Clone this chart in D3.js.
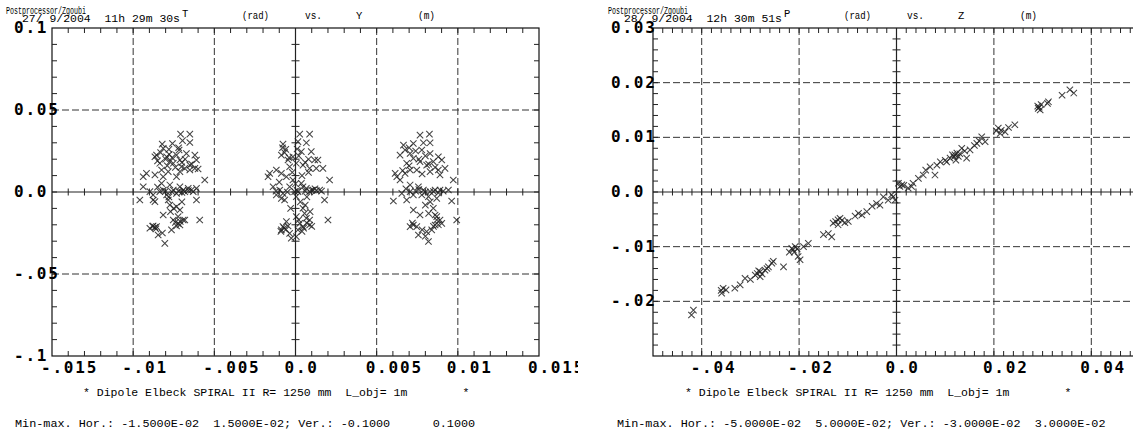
<!DOCTYPE html>
<html><head><meta charset="utf-8">
<script src="https://cdn.jsdelivr.net/npm/d3@7"></script>
<style>
html,body{margin:0;padding:0;background:#fff;}
svg{display:block;}
</style></head>
<body>
<script>
// ---------- data ----------
const leftXTicks = [-0.015,-0.01,-0.005,0,0.005,0.01,0.015];
const leftXLabels = ["-.015","-.01","-.005","0.0","0.005","0.01","0.015"];
const leftYTicks = [0.1,0.05,0,-0.05,-0.1];
const leftYLabels = ["0.1","0.05","0.0","-.05","-.1"];
const rightXTicks = [-0.04,-0.02,0,0.02,0.04];
const rightXLabels = ["-.04","-.02","0.0","0.02","0.04"];
const rightYTicks = [0.03,0.02,0.01,0,-0.01,-0.02];
const rightYLabels = ["0.03","0.02","0.01","0.0","-.01","-.02"];

// T (rad) vs Y (m), three bunches
const clusterA = [
[-0.00708,0.0353],[-0.00651,0.0353],[-0.00696,0.0313],[-0.00651,0.0302],[-0.00821,0.0292],[-0.00758,0.0296],
[-0.00815,0.0266],[-0.00717,0.0256],[-0.00831,0.0240],[-0.00778,0.0229],[-0.00856,0.0225],[-0.00672,0.0235],
[-0.00620,0.0225],[-0.00866,0.0215],[-0.00794,0.0215],[-0.00733,0.0225],[-0.00774,0.0185],[-0.00712,0.0195],
[-0.00610,0.0195],[-0.00836,0.0175],[-0.00753,0.0175],[-0.00651,0.0164],[-0.00620,0.0144],[-0.00702,0.0154],
[-0.00682,0.0144],[-0.00825,0.0134],[-0.00784,0.0124],[-0.00712,0.0124],[-0.00600,0.0140],[-0.00918,0.0114],
[-0.00938,0.0093],[-0.00866,0.0104],[-0.00815,0.0093],[-0.00733,0.0093],[-0.00651,0.0134],[-0.00559,0.0073],
[-0.00938,0.0032],[-0.00897,0.0002],[-0.00825,0.0053],[-0.00815,0.0012],[-0.00774,0.0043],[-0.00753,0.0012],
[-0.00712,0.0032],[-0.00692,0.0012],[-0.00661,0.0022],[-0.00641,0.0012],[-0.00610,0.0022],[-0.00836,0.0002],
[-0.00877,-0.0018],[-0.00794,-0.0018],[-0.00733,-0.0008],[-0.00959,-0.0049],[-0.00877,-0.0049],[-0.00866,-0.0059],
[-0.00610,-0.0049],[-0.00784,-0.0049],[-0.00682,0.0002],
[-0.00774,-0.0079],[-0.00733,-0.0089],[-0.00712,-0.0110],[-0.00815,-0.0140],[-0.00723,-0.0150],[-0.00753,-0.0171],
[-0.00692,-0.0171],[-0.00590,-0.0171],[-0.00877,-0.0207],[-0.00856,-0.0211],[-0.00712,-0.0201],[-0.00897,-0.0221],
[-0.00764,-0.0231],[-0.00846,-0.0262],[-0.00805,-0.0313],[-0.00723,-0.0191],[-0.00682,-0.0171],[-0.00866,-0.0215],
[-0.00733,-0.0207],
[-0.00800,0.0200],[-0.00760,0.0210],[-0.00700,0.0180],[-0.00740,0.0150],[-0.00790,0.0160],[-0.00850,0.0190],
[-0.00680,0.0200],[-0.00640,0.0170],[-0.00720,0.0270],[-0.00780,0.0260],[-0.00800,0.0005],[-0.00760,0.0000],
[-0.00720,0.0005],[-0.00700,-0.0002],[-0.00660,0.0008],[-0.00630,0.0002],[-0.00850,0.0030],[-0.00780,-0.0030],
[-0.00880,-0.0210],[-0.00860,-0.0225],[-0.00740,-0.0185],[-0.00710,-0.0180],[-0.00770,-0.0120],[-0.00750,-0.0100],
[-0.00820,-0.0250],[-0.00700,-0.0060]
];
const clusterB = [
[0.00026,0.0353],[0.00087,0.0353],[0.00015,0.0307],[0.00067,0.0300],[-0.00077,0.0292],[0.00097,0.0246],
[0.00036,0.0246],[-0.00067,0.0240],[-0.00087,0.0225],[-0.00016,0.0215],[-0.00046,0.0195],[0.00118,0.0195],
[0.00138,0.0195],[0.00005,0.0175],[-0.00036,0.0154],[0.00046,0.0164],[0.00087,0.0144],[0.00128,0.0144],
[0.00169,0.0144],[-0.00118,0.0134],[-0.00159,0.0114],[-0.00169,0.0093],[-0.00087,0.0114],[-0.00056,0.0093],
[-0.00016,0.0073],[0.00210,0.0073],
[-0.00138,0.0032],[-0.00097,0.0012],[-0.00077,-0.0008],[-0.00005,0.0002],[0.00015,0.0002],[0.00046,0.0032],
[0.00067,0.0022],[0.00108,0.0012],[0.00128,0.0008],[0.00149,0.0012],[0.00036,0.0053],[-0.00036,0.0032],
[-0.00118,-0.0018],[-0.00087,-0.0039],[0.00005,-0.0028],[0.00087,0.0002],[0.00179,-0.0049],[-0.00067,-0.0049],
[0.00046,-0.0099],[0.00056,-0.0130],[0.00005,-0.0150],[0.00067,-0.0160],[0.00087,-0.0171],[0.00026,-0.0191],
[0.00046,-0.0211],[-0.00056,-0.0181],[-0.00077,-0.0211],[-0.00087,-0.0231],[-0.00036,-0.0252],[0.00005,-0.0272],
[0.00015,-0.0231],[0.00087,-0.0201],[0.00200,-0.0171],[-0.00026,-0.0282],[-0.00046,-0.0207],
[0.00010,0.0262],[-0.00040,0.0210],[0.00060,0.0180],[0.00100,0.0010],[-0.00120,0.0005],[0.00070,-0.0030],
[0.00050,-0.0220],[-0.00060,-0.0230],
[-0.00060,0.0260],[-0.00080,0.0270],[0.00020,0.0220],[0.00080,0.0200],[-0.00020,0.0120],[0.00040,0.0100],
[0.00080,0.0120],[-0.00100,0.0060],[0.00010,0.0010],[0.00060,0.0005],[-0.00050,0.0000],[0.00120,0.0020],
[0.00160,0.0005],[0.00030,-0.0060],[0.00060,-0.0080],[0.00090,-0.0120],[0.00020,-0.0170],[0.00070,-0.0190],
[-0.00070,-0.0220],[-0.00090,-0.0240],[0.00040,-0.0240],[0.00100,-0.0210],[-0.00030,-0.0100],[0.00000,0.0050]
];
const clusterC = [
[0.00767,0.0347],[0.00825,0.0353],[0.00726,0.0296],[0.00788,0.0300],[0.00829,0.0300],[0.00665,0.0286],
[0.00675,0.0256],[0.00778,0.0256],[0.00829,0.0235],[0.00706,0.0235],[0.00644,0.0225],[0.00726,0.0205],
[0.00880,0.0215],[0.00767,0.0185],[0.00849,0.0185],[0.00901,0.0195],[0.00685,0.0175],[0.00808,0.0164],
[0.00921,0.0144],[0.00880,0.0134],[0.00614,0.0114],[0.00624,0.0093],[0.00675,0.0114],[0.00706,0.0134],
[0.00747,0.0134],[0.00829,0.0124],[0.00890,0.0104],[0.00972,0.0073],[0.00644,0.0073],
[0.00706,0.0043],[0.00757,0.0032],[0.00788,0.0012],[0.00829,0.0002],[0.00860,0.0012],[0.00890,0.0012],
[0.00942,0.0012],[0.00706,0.0002],[0.00726,-0.0018],[0.00778,-0.0018],[0.00685,-0.0049],[0.00603,-0.0055],
[0.00819,-0.0028],[0.00962,-0.0055],[0.00870,-0.0039],[0.00655,-0.0008],
[0.00726,-0.0110],[0.00767,-0.0140],[0.00849,-0.0099],[0.00860,-0.0140],[0.00870,-0.0171],[0.00890,-0.0171],
[0.00726,-0.0201],[0.00747,-0.0211],[0.00808,-0.0242],[0.00839,-0.0231],[0.00757,-0.0262],[0.00819,-0.0302],
[0.00993,-0.0171],[0.00901,-0.0191],[0.00860,-0.0201],[0.00706,-0.0211],
[0.00700,0.0270],[0.00740,0.0250],[0.00800,0.0220],[0.00760,0.0200],[0.00820,0.0170],[0.00700,0.0160],
[0.00860,0.0150],[0.00660,0.0130],[0.00780,0.0110],[0.00740,0.0005],[0.00800,0.0000],[0.00850,0.0003],
[0.00880,-0.0005],[0.00910,0.0005],[0.00760,0.0015],[0.00680,0.0020],[0.00830,-0.0060],[0.00800,-0.0080],
[0.00820,-0.0130],[0.00870,-0.0150],[0.00880,-0.0200],[0.00850,-0.0210],[0.00780,-0.0230],[0.00720,-0.0190],
[0.00800,-0.0270]
];
// P (rad) vs Z (m)
const pointsZP = [
[-0.0421,-0.0225],[-0.0417,-0.0216],[-0.0359,-0.0185],[-0.0356,-0.0176],[-0.0332,-0.0176],[-0.0321,-0.0170],
[-0.0311,-0.0158],[-0.0280,-0.0155],[-0.0280,-0.0146],[-0.0270,-0.0143],[-0.0263,-0.0137],[-0.0256,-0.0130],
[-0.0253,-0.0127],[-0.0232,-0.0137],[-0.0215,-0.0103],[-0.0212,-0.0106],[-0.0202,-0.0118],[-0.0198,-0.0124],
[-0.0191,-0.0100],[-0.0181,-0.0094],[-0.0140,-0.0076],[-0.0133,-0.0082],[-0.0130,-0.0057],[-0.0120,-0.0051],
[-0.0116,-0.0048],[-0.0106,-0.0056],[-0.0099,-0.0054],[-0.0078,-0.0039],[-0.0071,-0.0042],[-0.0061,-0.0036],
[-0.0041,-0.0021],[-0.0034,-0.0024],[-0.0027,-0.0009],[-0.0017,-0.0015],[-0.0007,-0.0009],[-0.0003,-0.0015],
[0.0004,0.0016],[0.0011,0.0013],[0.0024,0.0007],[0.0031,0.0010],[0.0034,0.0016],[0.0055,0.0031],
[0.0069,0.0046],[0.0079,0.0031],[0.0083,0.0049],[0.0103,0.0055],[0.0110,0.0062],[0.0120,0.0068],
[0.0124,0.0071],[0.0127,0.0065],[0.0134,0.0080],[0.0144,0.0062],[0.0151,0.0077],[0.0165,0.0089],
[0.0175,0.0101],[0.0182,0.0092],[0.0209,0.0117],[0.0213,0.0107],[0.0223,0.0110],[0.0243,0.0123],
[0.0291,0.0153],[0.0295,0.0150],[0.0312,0.0165],[0.0340,0.0177],[0.0356,0.0187],[0.0364,0.0181],
[-0.0276,-0.0150],[-0.0266,-0.0140],[-0.0286,-0.0149],[-0.0210,-0.0110],[-0.0204,-0.0104],[-0.0120,-0.0060],
[-0.0125,-0.0054],[0.0118,0.0064],[0.0130,0.0070],[0.0122,0.0058],[0.0290,0.0157],[0.0297,0.0160],
[0.0215,0.0113],[0.0007,0.0010],[-0.0010,-0.0005],[0.0060,0.0040],[-0.0360,-0.0180],[-0.0350,-0.0179],
[0.0090,0.0055],[0.0160,0.0085],
[-0.0300,-0.0160],[-0.0290,-0.0152],[-0.0283,-0.0144],[-0.0220,-0.0110],[-0.0208,-0.0100],[-0.0150,-0.0078],
[-0.0112,-0.0052],[-0.0085,-0.0044],[-0.0050,-0.0026],[0.0015,0.0012],[0.0045,0.0025],[0.0100,0.0058],
[0.0115,0.0068],[0.0140,0.0075],[0.0170,0.0093],[0.0205,0.0112],[0.0230,0.0118],[0.0293,0.0155],[0.0310,0.0162]
];

// ---------- drawing ----------
const W = 1133, H = 432;
const svg = d3.select("body").append("svg").attr("width", W).attr("height", H);
svg.append("rect").attr("width", W).attr("height", H).attr("fill", "#fff");
svg.append("defs").append("clipPath").attr("id","clipL")
  .append("rect").attr("x",0).attr("y",0).attr("width",578).attr("height",H);

const MONO = "'DejaVu Sans Mono', monospace";
const SMALL = "'Liberation Mono', 'DejaVu Sans Mono', monospace";

function panel(g, cfg) {
  const {x, y, xTicks, xLabels, yTicks, yLabels, xMinor, yMinor, data, yLabelX} = cfg;
  const [x0, x1] = x.range(), [y0, y1] = y.range(); // y0 bottom, y1 top
  const gridStyle = s => s.attr("stroke", "#333").attr("stroke-width", 1).attr("stroke-dasharray", "7,3").attr("fill","none");
  g.selectAll(null).data(xTicks.filter(v => v !== 0 && x(v) > x0 + 1 && x(v) < x1 - 1)).join("line")
    .attr("x1", d => x(d)).attr("x2", d => x(d)).attr("y1", y1).attr("y2", y0).call(gridStyle);
  g.selectAll(null).data(yTicks.filter(v => v !== 0 && y(v) < y0 - 1 && y(v) > y1 + 1)).join("line")
    .attr("y1", d => y(d)).attr("y2", d => y(d)).attr("x1", x0).attr("x2", x1).call(gridStyle);
  const ax = g.append("g").attr("stroke", "#222").attr("stroke-width", 1.2);
  ax.append("line").attr("x1", x0).attr("x2", x1).attr("y1", y(0)).attr("y2", y(0));
  ax.append("line").attr("x1", x(0)).attr("x2", x(0)).attr("y1", y0).attr("y2", y1);
  g.append("rect").attr("x", x0).attr("y", y1).attr("width", x1 - x0).attr("height", y0 - y1)
    .attr("fill", "none").attr("stroke", "#111").attr("stroke-width", 1.2);
  const tk = g.append("g").attr("stroke", "#222").attr("stroke-width", 1);
  const xm = xMinor.filter(v => x(v) > x0 + 0.5 && x(v) < x1 - 0.5);
  const ym = yMinor.filter(v => y(v) < y0 - 0.5 && y(v) > y1 + 0.5);
  tk.selectAll(null).data(xm).join("line").attr("x1", d => x(d)).attr("x2", d => x(d)).attr("y1", y1).attr("y2", y1 + 5);
  tk.selectAll(null).data(xm).join("line").attr("x1", d => x(d)).attr("x2", d => x(d)).attr("y1", y0).attr("y2", y0 - 5);
  tk.selectAll(null).data(xm).join("line").attr("x1", d => x(d)).attr("x2", d => x(d)).attr("y1", y(0) - 3.5).attr("y2", y(0) + 3.5);
  tk.selectAll(null).data(ym).join("line").attr("y1", d => y(d)).attr("y2", d => y(d)).attr("x1", x0).attr("x2", x0 + 5);
  tk.selectAll(null).data(ym).join("line").attr("y1", d => y(d)).attr("y2", d => y(d)).attr("x1", x1).attr("x2", x1 - 5);
  tk.selectAll(null).data(ym).join("line").attr("y1", d => y(d)).attr("y2", d => y(d)).attr("x1", x(0) - 4).attr("x2", x(0) + 4);
  g.append("g").selectAll("path").data(data).join("path")
    .attr("transform", d => `translate(${x(d[0])},${y(d[1])})`)
    .attr("d", "M-3.2,-3.2L3.2,3.2M-3.2,3.2L3.2,-3.2")
    .attr("stroke", "#222").attr("stroke-width", 1.05).attr("stroke-opacity", 0.85).attr("fill", "none");
  const lab = s => s.attr("font-family", MONO).attr("font-weight", "bold").attr("font-size", 16)
    .attr("letter-spacing", 1.8).attr("fill", "#000");
  g.selectAll(null).data(xTicks).join("text")
    .attr("x", d => x(d) - 11).attr("y", y0 + 17).text((d, i) => xLabels[i]).call(lab);
  g.selectAll(null).data(yTicks).join("text")
    .attr("x", yLabelX).attr("y", d => y(d) + 5).text((d, i) => yLabels[i]).call(lab);
}

const xL = d3.scaleLinear([-0.015, 0.015], [52, 539]);
const yL = d3.scaleLinear([-0.1, 0.1], [356, 28]);
const xR = d3.scaleLinear([-0.05, 0.05], [653, 1140]);
const yR = d3.scaleLinear([-0.03, 0.03], [356, 28]);

const gL = svg.append("g").attr("clip-path", "url(#clipL)");
panel(gL, {x: xL, y: yL, xTicks: leftXTicks, xLabels: leftXLabels, yTicks: leftYTicks, yLabels: leftYLabels,
  xMinor: xL.ticks(30), yMinor: yL.ticks(20), data: clusterA.concat(clusterB, clusterC), yLabelX: 14});
const gR = svg.append("g");
panel(gR, {x: xR, y: yR, xTicks: rightXTicks, xLabels: rightXLabels, yTicks: rightYTicks, yLabels: rightYLabels,
  xMinor: xR.ticks(50), yMinor: yR.ticks(30), data: pointsZP, yLabelX: 611});

function small(g, x, y, t, size, len) {
  const e = g.append("text").attr("x", x).attr("y", y).attr("font-family", SMALL).attr("font-size", size)
    .attr("fill", "#000").attr("xml:space", "preserve").style("white-space", "pre").text(t);
  if (len) e.attr("textLength", len).attr("lengthAdjust", "spacingAndGlyphs");
  return e;
}
const headers = [
  {dx: 0, date: "27/ 9/2004  11h 29m 30s", v: "T", h: "Y",
   mm: "Min-max. Hor.: -1.5000E-02  1.5000E-02; Ver.: -0.1000      0.1000"},
  {dx: 602, date: "28/ 9/2004  12h 30m 51s", v: "P", h: "Z",
   mm: "Min-max. Hor.: -5.0000E-02  5.0000E-02; Ver.: -3.0000E-02  3.0000E-02"}
];
headers.forEach(hd => {
  const g = svg.append("g").attr("transform", `translate(${hd.dx},0)`);
  small(g, 6, 14, "Postprocessor/Zgoubi", 10.5, 80);
  small(g, 22, 22, hd.date, 10.5, 158);
  small(g, 182, 17, hd.v, 10.5);
  small(g, 242, 19, "(rad)", 10.5, 27);
  small(g, 305, 19, "vs.", 10.5, 17);
  small(g, 356, 19, hd.h, 10.5);
  small(g, 418, 19, "(m)", 10.5, 17);
  small(g, 83, 396, "* Dipole Elbeck SPIRAL II R= 1250 mm  L_obj= 1m        *", 11.5);
  small(g, 15, 427, hd.mm, 11.8);
});
</script>
</body></html>
